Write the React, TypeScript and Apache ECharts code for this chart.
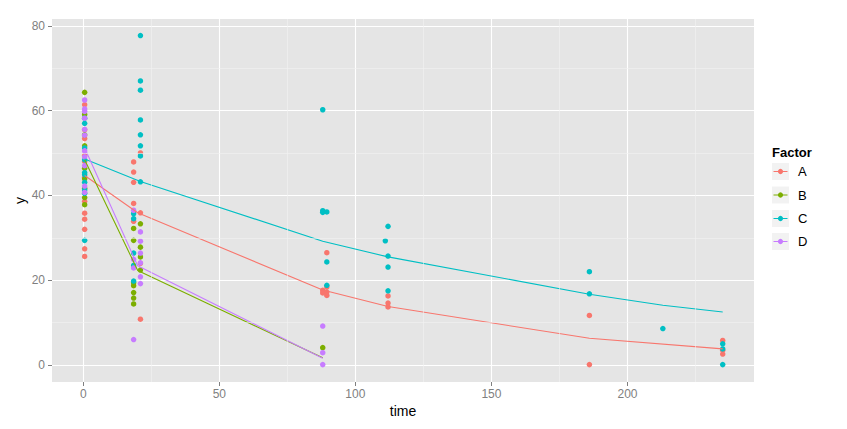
import React, { useEffect, useRef } from 'react';
import * as echarts from 'echarts';

const factors = ['A', 'B', 'C', 'D'];
const colors = ['#F8766D', '#7CAE00', '#00BFC4', '#C77CFF'];

// observed points [time, y]
const pointsA: [number, number][] = [
  [0.5, 61.4], [0.5, 55.5], [0.5, 53.4], [0.5, 49.4], [0.5, 48.0], [0.5, 44.3], [0.5, 38.6], [0.5, 35.8],
  [0.5, 34.4], [0.5, 32.0], [0.5, 27.4], [0.5, 25.6],
  [18.5, 47.9], [18.5, 45.5], [18.5, 43.1], [18.5, 38.1], [18.5, 33.9],
  [21, 50.0], [21, 35.9], [21, 24.0], [21, 10.8],
  [88, 17.6], [88, 17.0], [89.5, 26.5], [89.5, 18.4], [89.5, 17.2], [89.5, 16.4],
  [112, 16.3], [112, 14.6], [112, 13.7],
  [186, 11.7], [186, 0.1],
  [235, 5.8], [235, 3.5], [235, 2.6],
];
const pointsB: [number, number][] = [
  [0.5, 64.3], [0.5, 59.1], [0.5, 54.3], [0.5, 51.7], [0.5, 46.4], [0.5, 43.9], [0.5, 41.7], [0.5, 39.5], [0.5, 37.8],
  [18.5, 32.2], [18.5, 29.4], [18.5, 19.4], [18.5, 18.7], [18.5, 17.1], [18.5, 15.8], [18.5, 14.4],
  [21, 33.3], [21, 27.8], [21, 25.5], [21, 22.4],
  [88, 4.1],
];
const pointsC: [number, number][] = [
  [0.5, 58.2], [0.5, 57.0], [0.5, 51.2], [0.5, 48.4], [0.5, 45.4], [0.5, 44.9], [0.5, 43.1], [0.5, 41.3], [0.5, 40.5], [0.5, 29.4],
  [18.5, 35.7], [18.5, 34.5], [18.5, 26.4], [18.5, 23.5], [18.5, 19.8],
  [21, 77.7], [21, 67.0], [21, 64.8], [21, 57.8], [21, 54.3], [21, 51.7], [21, 49.3], [21, 43.2],
  [88, 60.2], [88, 36.4], [88, 36.0], [89.5, 36.1], [89.5, 24.3], [89.5, 18.8],
  [111, 29.3], [112, 32.7], [112, 25.7], [112, 23.1], [112, 17.5],
  [186, 22.0], [186, 16.8],
  [213, 8.6],
  [235, 5.0], [235, 3.8], [235, 0.1],
];
const pointsD: [number, number][] = [
  [0.5, 62.5], [0.5, 60.4], [0.5, 59.8], [0.5, 58.2], [0.5, 55.6], [0.5, 54.2], [0.5, 50.5], [0.5, 49.1], [0.5, 47.0],
  [0.5, 42.2], [0.5, 40.7],
  [18.5, 36.5], [18.5, 24.9], [18.5, 22.9], [18.5, 6.0],
  [21, 31.4], [21, 29.2], [21, 26.4], [21, 24.1], [21, 20.8], [21, 19.2],
  [88, 9.2], [88, 2.9], [88, 0.1],
];

// fitted curves [time, y]
const fitA: [number, number][] = [[0.5, 44.7], [20, 35.9], [88, 17.7], [112, 13.8], [186, 6.3], [235, 3.8]];
const fitB: [number, number][] = [[0.5, 48.4], [20, 22.3], [88, 1.7]];
const fitC: [number, number][] = [[0.5, 48.6], [21, 43.3], [88, 29.2], [112, 25.5], [186, 16.7], [213, 14.1], [235, 12.5]];
const fitD: [number, number][] = [[0.5, 51.2], [20, 23.4], [88, 1.6]];

const xTicks = [0, 50, 100, 150, 200];
const yTicks = [0, 20, 40, 60, 80];
const xMinor = [25, 75, 125, 175, 225];
const yMinor = [10, 30, 50, 70];

const FONT = '"Liberation Sans", Arial, Helvetica, sans-serif';

export default function App() {
  const ref = useRef<HTMLDivElement>(null);
  useEffect(() => {
    if (!ref.current) return;
    const chart = echarts.init(ref.current, undefined, { renderer: 'svg' });
    const pts = [pointsA, pointsB, pointsC, pointsD];
    const fits = [fitA, fitB, fitC, fitD];

    const legendX = 772;
    const keyCenters = [171.5, 195, 218.5, 241.5];
    const graphic: any[] = [
      {
        type: 'text', left: legendX, top: 146,
        style: { text: 'Factor', font: `bold 13px ${FONT}`, fill: '#000' },
      },
    ];
    factors.forEach((f, i) => {
      const cy = keyCenters[i];
      graphic.push({ type: 'rect', shape: { x: legendX, y: cy - 8.5, width: 17, height: 17 }, style: { fill: '#F2F2F2' } });
      graphic.push({ type: 'line', shape: { x1: legendX + 1.5, y1: cy, x2: legendX + 15.5, y2: cy }, style: { stroke: colors[i], lineWidth: 1 } });
      graphic.push({ type: 'circle', shape: { cx: legendX + 8.5, cy, r: 2.6 }, style: { fill: colors[i] } });
      graphic.push({
        type: 'text', x: 798, y: cy,
        style: { text: f, font: `13px ${FONT}`, fill: '#000', verticalAlign: 'middle', align: 'left' },
      });
    });

    const series: any[] = [
      {
        type: 'scatter', data: [], z: 1, silent: true,
        markLine: {
          silent: true, symbol: 'none', animation: false,
          label: { show: false },
          lineStyle: { color: '#F2F2F2', width: 0.6, type: 'solid' },
          emphasis: { disabled: true },
          data: [...xMinor.map((v) => ({ xAxis: v })), ...yMinor.map((v) => ({ yAxis: v }))],
        },
      },
    ];
    factors.forEach((f, i) => {
      series.push({
        name: f, type: 'scatter', data: pts[i], symbol: 'circle', symbolSize: 5.5,
        itemStyle: { color: colors[i], opacity: 1 }, z: 3,
      });
    });
    factors.forEach((f, i) => {
      series.push({
        name: f, type: 'line', data: fits[i], showSymbol: false, symbol: 'none',
        lineStyle: { color: colors[i], width: 1.1 }, itemStyle: { color: colors[i] }, z: 4,
      });
    });

    chart.setOption({
      animation: false,
      textStyle: { fontFamily: FONT },
      grid: {
        left: 52, right: 93, top: 19, bottom: 47, show: true,
        backgroundColor: '#E5E5E5', borderWidth: 0, containLabel: false,
      },
      xAxis: {
        type: 'value', min: -11.5, max: 246.5, splitNumber: 5,
        name: 'time', nameLocation: 'middle', nameGap: 22, nameMoveOverlap: false,
        nameTextStyle: { fontSize: 14, color: '#000', fontFamily: FONT },
        axisLine: { show: false, onZero: false },
        axisTick: { show: true, customValues: xTicks, length: 4, lineStyle: { color: '#7F7F7F', width: 1 } },
        axisLabel: { customValues: xTicks, color: '#7F7F7F', fontSize: 12, margin: 6, fontFamily: FONT },
        splitLine: { show: true, lineStyle: { color: '#FFFFFF', width: 1.1 } },
      },
      yAxis: {
        type: 'value', min: -4, max: 81.6, splitNumber: 5,
        name: 'y', nameLocation: 'middle', nameGap: 25, nameRotate: 90, nameMoveOverlap: false,
        nameTextStyle: { fontSize: 14, color: '#000', fontFamily: FONT },
        axisLine: { show: false, onZero: false },
        axisTick: { show: true, customValues: yTicks, length: 4, lineStyle: { color: '#7F7F7F', width: 1 } },
        axisLabel: { customValues: yTicks, color: '#7F7F7F', fontSize: 12, margin: 7, fontFamily: FONT },
        splitLine: { show: true, lineStyle: { color: '#FFFFFF', width: 1.1 } },
      },
      graphic,
      series,
    });
    return () => chart.dispose();
  }, []);
  return (
    <div
      ref={ref}
      style={{ position: 'fixed', left: 0, top: 0, width: 847, height: 429, background: '#FFFFFF' }}
    />
  );
}
